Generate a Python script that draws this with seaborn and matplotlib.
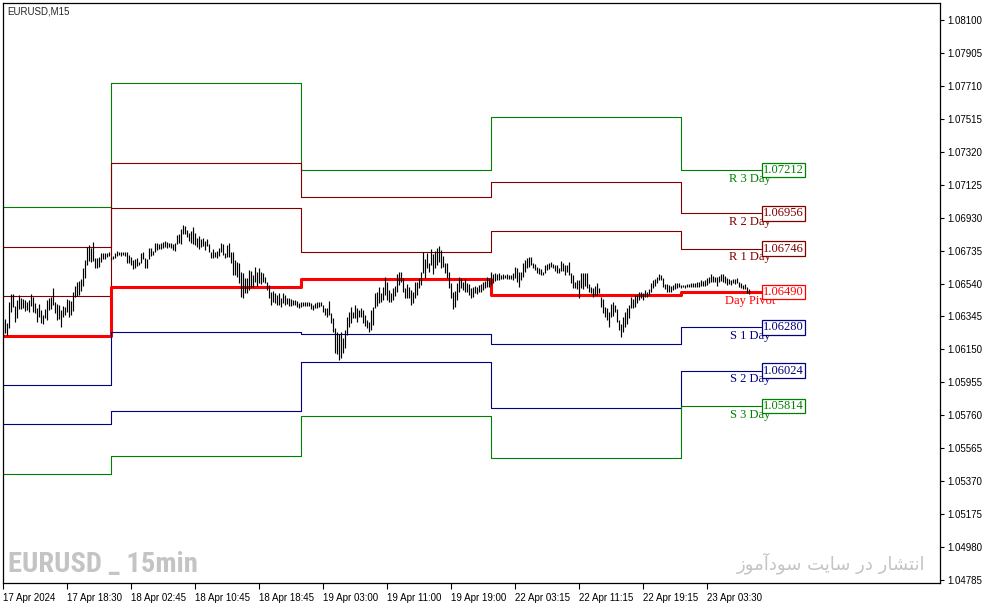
import numpy as np
import matplotlib
matplotlib.use("Agg")
import matplotlib.pyplot as plt
import seaborn as sns

sns.set_style("white")
plt.rcParams['font.family'] = ['Liberation Sans', 'DejaVu Sans']

# EURUSD M15 bars, high / low in points (1 point = 0.00001)
bar_high_pts = [
    106314, 106330, 106304, 106433, 106478, 106478, 106407, 106442, 106472, 106452, 106446, 106442,
    106433, 106442, 106478, 106458, 106427, 106393, 106419, 106383, 106354, 106387, 106442, 106452,
    106462, 106512, 106433, 106419, 106413, 106383, 106407, 106399, 106446, 106442, 106438, 106492,
    106525, 106551, 106557, 106565, 106630, 106679, 106758, 106768, 106748, 106788, 106689, 106689,
    106695, 106719, 106719, 106723, 106723, 106729, 106699, 106703, 106719, 106734, 106729, 106729,
    106727, 106729, 106727, 106709, 106695, 106679, 106683, 106689, 106669, 106719, 106729, 106689,
    106683, 106748, 106748, 106734, 106778, 106778, 106774, 106778, 106788, 106794, 106788, 106778,
    106782, 106774, 106782, 106827, 106833, 106861, 106886, 106880, 106857, 106841, 106853, 106873,
    106837, 106807, 106821, 106802, 106807, 106794, 106802, 106774, 106729, 106742, 106729, 106734,
    106748, 106778, 106774, 106723, 106768, 106778, 106729, 106729, 106679, 106669, 106659, 106610,
    106600, 106571, 106571, 106620, 106616, 106590,
    106640, 106606, 106630, 106606, 106600, 106580, 106551, 106531, 106492, 106496, 106482, 106472,
    106482, 106456, 106482, 106472, 106452, 106452, 106448, 106442, 106442, 106436, 106423, 106432,
    106429, 106429, 106432, 106432, 106423, 106413, 106423, 106429, 106432, 106429, 106413, 106393,
    106393, 106436, 106363, 106334, 106275, 106251, 106239, 106251, 106215, 106265, 106344, 106373,
    106403, 106373, 106413, 106393, 106383, 106393, 106383, 106354, 106324, 106310, 106383, 106403,
    106482, 106492, 106521, 106482, 106521, 106580, 106547, 106501, 106482, 106511, 106527, 106594,
    106606, 106610, 106575, 106511, 106535, 106521, 106501, 106492, 106551, 106547, 106571, 106606,
    106728, 106685, 106719, 106659, 106744, 106713, 106732, 106748, 106764, 106738, 106705, 106659,
    106659, 106606, 106541, 106492, 106496, 106541, 106580, 106575, 106551, 106567, 106541, 106535,
    106511, 106521, 106527, 106521, 106531, 106535, 106547, 106555, 106580, 106575, 106606, 106594,
    106600, 106594, 106600, 106590, 106594,
    106590, 106596, 106590, 106590, 106600, 106639, 106630, 106610, 106610, 106663, 106679, 106689,
    106699, 106695, 106659, 106655, 106639, 106630, 106624, 106610, 106649, 106655, 106663, 106669,
    106655, 106649, 106649, 106630, 106675, 106659, 106649, 106649, 106669, 106600, 106590, 106551,
    106560, 106560, 106600, 106604, 106600, 106604, 106537, 106521, 106511, 106525, 106541, 106511,
    106462, 106446, 106403, 106393, 106373, 106418, 106432, 106413, 106387, 106324, 106300, 106343,
    106373, 106393, 106413, 106462, 106446, 106472, 106472, 106491, 106491, 106482, 106501, 106491,
    106505, 106541, 106560, 106564, 106576, 106596, 106590, 106570, 106537, 106537, 106531, 106525,
    106531, 106541, 106541, 106545, 106531, 106531, 106531, 106537, 106537, 106541, 106541, 106545,
    106551, 106551, 106560, 106556, 106560, 106570, 106580, 106596, 106584, 106580, 106576, 106584,
    106596, 106596, 106584, 106570, 106564, 106560, 106564, 106564, 106570, 106551, 106541, 106531,
    106537, 106517, 106505,
]
bar_low_pts = [
    106229, 106245, 106235, 106275, 106373, 106399, 106314, 106334, 106387, 106387, 106393, 106379,
    106383, 106373, 106407, 106373, 106364, 106314, 106344, 106304, 106300, 106334, 106324, 106383,
    106387, 106413, 106364, 106324, 106328, 106285, 106344, 106354, 106373, 106344, 106354, 106379,
    106462, 106466, 106472, 106498, 106525, 106571, 106650, 106675, 106669, 106675, 106630, 106630,
    106640, 106669, 106683, 106683, 106699, 106703, 106679, 106683, 106689, 106703, 106709, 106703,
    106709, 106703, 106663, 106663, 106650, 106624, 106630, 106644, 106650, 106659, 106683, 106630,
    106630, 106683, 106703, 106709, 106729, 106738, 106742, 106742, 106748, 106758, 106748, 106758,
    106748, 106738, 106734, 106774, 106778, 106774, 106833, 106833, 106817, 106794, 106782, 106774,
    106768, 106758, 106742, 106758, 106762, 106738, 106762, 106729, 106689, 106689, 106695, 106689,
    106703, 106729, 106709, 106689, 106695, 106699, 106659, 106590, 106590, 106581, 106541, 106458,
    106452, 106482, 106482, 106502, 106521, 106521,
    106551, 106527, 106541, 106535, 106551, 106541, 106501, 106452, 106413, 106432, 106423, 106413,
    106413, 106403, 106423, 106413, 106417, 106409, 106409, 106413, 106413, 106403, 106397, 106403,
    106409, 106409, 106409, 106409, 106389, 106383, 106393, 106393, 106403, 106409, 106373, 106354,
    106344, 106354, 106304, 106255, 106127, 106121, 106087, 106101, 106127, 106156, 106235, 106284,
    106304, 106334, 106334, 106314, 106344, 106344, 106304, 106290, 106275, 106255, 106265, 106294,
    106393, 106409, 106423, 106432, 106442, 106472, 106442, 106432, 106432, 106442, 106468, 106492,
    106531, 106551, 106492, 106452, 106452, 106452, 106413, 106423, 106452, 106472, 106511, 106531,
    106600, 106571, 106630, 106610, 106649, 106594, 106630, 106649, 106665, 106630, 106640, 106600,
    106571, 106515, 106452, 106389, 106403, 106442, 106492, 106511, 106501, 106492, 106488, 106472,
    106452, 106462, 106482, 106476, 106488, 106492, 106501, 106511, 106521, 106521, 106531, 106541,
    106555, 106561, 106561, 106567, 106567,
    106570, 106564, 106564, 106564, 106560, 106570, 106551, 106521, 106560, 106580, 106610, 106630,
    106639, 106649, 106630, 106620, 106604, 106596, 106590, 106590, 106600, 106620, 106624, 106635,
    106630, 106616, 106604, 106600, 106616, 106616, 106590, 106610, 106590, 106541, 106511, 106511,
    106505, 106452, 106511, 106505, 106525, 106511, 106491, 106482, 106462, 106472, 106472, 106482,
    106399, 106363, 106343, 106324, 106284, 106343, 106347, 106373, 106314, 106265, 106221, 106255,
    106284, 106300, 106334, 106393, 106393, 106403, 106422, 106442, 106452, 106442, 106458, 106462,
    106472, 106491, 106511, 106525, 106545, 106560, 106560, 106517, 106505, 106491, 106491, 106491,
    106501, 106505, 106511, 106521, 106511, 106517, 106511, 106517, 106517, 106517, 106521, 106521,
    106517, 106521, 106525, 106525, 106525, 106531, 106541, 106551, 106551, 106551, 106525, 106551,
    106556, 106551, 106541, 106531, 106537, 106531, 106541, 106537, 106541, 106521, 106511, 106505,
    106505, 106485, 106478,
]

# daily pivot levels (17, 18, 19, 22, 23 Apr)
day_start_bar = [0, 54, 149, 244, 339]
level_end_bar = 379
level_names = ["R 3 Day", "R 2 Day", "R 1 Day", "Day Pivot", "S 1 Day", "S 2 Day", "S 3 Day"]
r3 = [1.06993, 1.07727, 1.07212, 1.07526, 1.07212]
r2 = [1.06756, 1.07253, 1.07052, 1.07141, 1.06956]
r1 = [1.06466, 1.06987, 1.06727, 1.06851, 1.06746]
pivot = [1.06229, 1.06519, 1.06567, 1.06472, 1.06490]
s1 = [1.05939, 1.06253, 1.06241, 1.06182, 1.06280]
s2 = [1.05708, 1.05785, 1.06075, 1.05803, 1.06024]
s3 = [1.05412, 1.05519, 1.05756, 1.05507, 1.05814]
level_colors = ["#008000", "#800000", "#800000", "#ff0000", "#000080", "#000080", "#008000"]

x_tick_bars = [0, 32, 64, 96, 128, 160, 192, 224, 256, 288, 320, 352]
x_tick_labels = ["17 Apr 2024", "17 Apr 18:30", "18 Apr 02:45", "18 Apr 10:45", "18 Apr 18:45",
                 "19 Apr 03:00", "19 Apr 11:00", "19 Apr 19:00", "22 Apr 03:15", "22 Apr 11:15",
                 "22 Apr 19:15", "23 Apr 03:30"]
y_ticks = [1.08100, 1.07905, 1.07710, 1.07515, 1.07320, 1.07125, 1.06930, 1.06735, 1.06540,
           1.06345, 1.06150, 1.05955, 1.05760, 1.05565, 1.05370, 1.05175, 1.04980, 1.04785]

highs = np.array(bar_high_pts) / 1e5
lows = np.array(bar_low_pts) / 1e5
bars = np.arange(len(highs))

fig = plt.figure(figsize=(9.87, 6.05), dpi=100)
ax = fig.add_axes([3 / 987, 22 / 605, 937 / 987, 580 / 605])

ax.vlines(bars, lows, highs, color="black", lw=0.85, zorder=3)

counts = np.diff(day_start_bar + [level_end_bar + 1])
x_lv = np.arange(level_end_bar + 1)
for name, vals, col in zip(level_names, [r3, r2, r1, pivot, s1, s2, s3], level_colors):
    y_lv = np.repeat(vals, counts)
    lw = 2.2 if name == "Day Pivot" else 0.8
    sns.lineplot(x=x_lv, y=y_lv, ax=ax, color=col, lw=lw, drawstyle="steps-post",
                 estimator=None, zorder=2)
    last = vals[-1]
    ax.text(373.5, last - 0.00051, name, ha="center", va="center", color=col,
            family="Liberation Serif", size=9, zorder=5)
    ax.text(380, last, f"{last:.5f}", ha="left", va="center", color=col,
            family="Liberation Serif", size=9, zorder=6,
            bbox=dict(boxstyle="square,pad=0.1", fc="white", ec=col, lw=0.9))

ax.set_xlim(-0.15, 468.35)
ax.set_ylim(1.04767, 1.08201)
ax.set_xlabel("")
ax.set_ylabel("")

ax.yaxis.tick_right()
ax.set_yticks(y_ticks)
ax.set_yticklabels([f"{v:.5f}" for v in y_ticks])
ax.set_xticks(x_tick_bars)
ax.set_xticklabels(x_tick_labels)
for lab in ax.get_xticklabels():
    lab.set_ha("left")
ax.tick_params(axis="y", which="both", right=True, left=False, direction="out",
               length=3, width=0.8, labelsize=7, pad=2, colors="black")
ax.tick_params(axis="x", which="both", bottom=True, direction="out",
               length=4, width=0.8, labelsize=7, pad=3, colors="black")
for sp in ax.spines.values():
    sp.set_color("black")
    sp.set_linewidth(0.9)

fig.text(7 / 987, 1 - 11 / 605, "EURUSD,M15", fontsize=7, va="center", ha="left")

# watermarks
fig.text(8 / 987, 1 - 578 / 605, "EURUSD _ 15min", fontsize=20.5, fontweight="bold",
         fontstretch="condensed",
         family=["Roboto Condensed", "Liberation Sans Narrow", "DejaVu Sans"],
         color="#c4c4c4", va="bottom", ha="left")
persian = "\ufeaf\ufeee\ufee3\ufe81\ufea9\ufeee\ufeb3 \ufe96\ufef3\ufe8e\ufeb3 \ufead\ufea9 \ufead\ufe8e\ufeb8\ufe98\ufee7\ufe8d"
fig.text(925 / 987, 1 - 563 / 605, persian, fontsize=13,
         family=["DejaVu Sans"], color="#c4c4c4", va="center", ha="right")

fig.savefig("out.png", dpi=100)
